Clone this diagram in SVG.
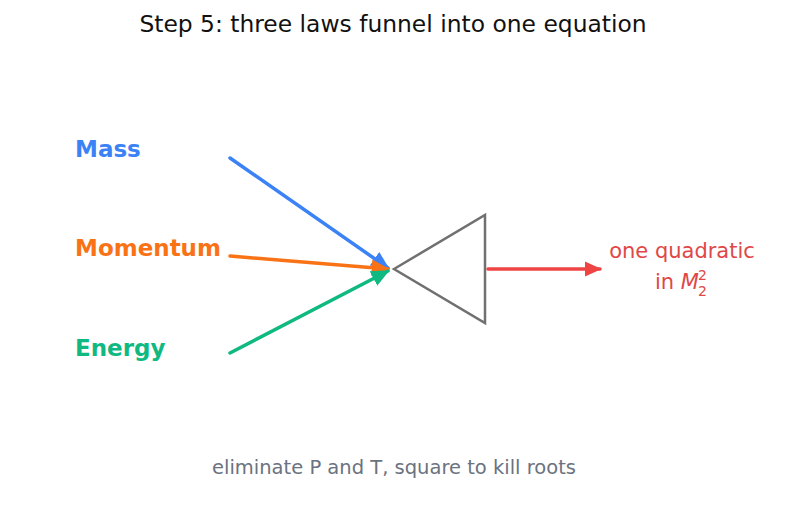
<svg xmlns="http://www.w3.org/2000/svg" width="787" height="510" viewBox="0 0 787 510">
<style>
text{font-family:"DejaVu Sans",sans-serif}
.lbl{font-weight:bold;font-size:23px}
.conn{fill:none;stroke-width:3.5;stroke-linecap:round}
</style>
<defs>
<marker id="hb" viewBox="0 0 10 10" refX="9" refY="5" markerWidth="5.2" markerHeight="5.2" orient="auto" markerUnits="strokeWidth"><path d="M0,0.5 L10,5 L0,9.5 z" fill="#3b82f6"/></marker>
<marker id="ho" viewBox="0 0 10 10" refX="9" refY="5" markerWidth="5.2" markerHeight="5.2" orient="auto" markerUnits="strokeWidth"><path d="M0,0.5 L10,5 L0,9.5 z" fill="#f97316"/></marker>
<marker id="hg" viewBox="0 0 10 10" refX="9" refY="5" markerWidth="5.2" markerHeight="5.2" orient="auto" markerUnits="strokeWidth"><path d="M0,0.5 L10,5 L0,9.5 z" fill="#10b981"/></marker>
<marker id="hr" viewBox="0 0 10 10" refX="9" refY="5" markerWidth="4.8" markerHeight="4.8" orient="auto" markerUnits="strokeWidth"><path d="M0,0.5 L10,5 L0,9.5 z" fill="#ef4444"/></marker>
</defs>
<rect width="787" height="510" fill="#fff"/>
<text x="393" y="32" text-anchor="middle" font-size="23.4" fill="#111">Step 5: three laws funnel into one equation</text>
<g id="mass"><text class="lbl" x="75" y="157" fill="#3b82f6">Mass</text></g>
<g id="momentum"><text class="lbl" x="75" y="256" fill="#f97316">Momentum</text></g>
<g id="energy"><text class="lbl" x="75" y="356" fill="#10b981">Energy</text></g>
<g id="funnel"><polygon points="394,269 485,215 485,323" fill="none" stroke="#707070" stroke-width="2.5" stroke-linejoin="miter"/></g>
<g id="result"><text x="682" y="258" text-anchor="middle" font-size="21" fill="#e04848">one quadratic</text>
<text x="655" y="289" font-size="21" fill="#e04848">in <tspan font-style="italic">M</tspan></text>
<text x="698" y="296" font-size="14" fill="#e04848">2</text>
<text x="698" y="280" font-size="14" fill="#e04848">2</text></g>
<g id="connectors">
<line class="conn" x1="230" y1="158" x2="388" y2="268" stroke="#3b82f6" marker-end="url(#hb)"/>
<line class="conn" x1="230" y1="256" x2="388" y2="269" stroke="#f97316" marker-end="url(#ho)"/>
<line class="conn" x1="230" y1="353" x2="388" y2="271" stroke="#10b981" marker-end="url(#hg)"/>
<line class="conn" x1="488" y1="269" x2="600" y2="269" stroke="#ef4444" stroke-width="4" marker-end="url(#hr)"/>
</g>
<g id="note"><text x="394" y="474" text-anchor="middle" font-size="19.5" fill="#6b7280">eliminate P and T, square to kill roots</text></g>
</svg>
